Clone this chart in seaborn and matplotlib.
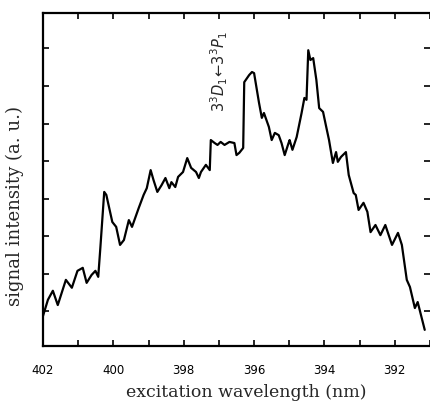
import matplotlib
matplotlib.use("Agg")
import matplotlib.pyplot as plt
import seaborn as sns
import numpy as np
import pandas as pd

wavelength = [402.00, 401.86, 401.72, 401.58, 401.35, 401.18, 401.02, 400.87, 400.76, 400.62,
              400.51, 400.43, 400.37, 400.26, 400.20, 400.03, 399.92, 399.81, 399.70, 399.56,
              399.47, 399.28, 399.14, 399.05, 398.94, 398.86, 398.75, 398.63, 398.52, 398.41,
              398.35, 398.24, 398.16, 398.02, 397.90, 397.79, 397.65, 397.57, 397.51, 397.37,
              397.26, 397.23, 397.12, 397.04, 396.95, 396.84, 396.70, 396.56, 396.50, 396.42,
              396.31, 396.28, 396.14, 396.06, 396.00, 395.86, 395.78, 395.72, 395.58, 395.50,
              395.41, 395.30, 395.22, 395.13, 395.02, 394.99, 394.91, 394.79, 394.65, 394.57,
              394.51, 394.46, 394.40, 394.32, 394.23, 394.15, 394.04, 393.95, 393.87, 393.76,
              393.67, 393.62, 393.53, 393.39, 393.31, 393.17, 393.11, 393.03, 392.89, 392.78,
              392.69, 392.55, 392.41, 392.27, 392.08, 391.91, 391.80, 391.66, 391.57, 391.43,
              391.35, 391.15]
intensity = [0.88, 1.31, 1.55, 1.17, 1.84, 1.63, 2.08, 2.16, 1.76, 1.97,
             2.08, 1.92, 2.69, 4.18, 4.10, 3.38, 3.25, 2.77, 2.90, 3.43,
             3.25, 3.75, 4.10, 4.28, 4.76, 4.50, 4.18, 4.36, 4.55, 4.28,
             4.44, 4.31, 4.58, 4.71, 5.08, 4.82, 4.71, 4.55, 4.71, 4.90,
             4.76, 5.56, 5.48, 5.43, 5.51, 5.43, 5.51, 5.48, 5.16, 5.22,
             5.35, 7.10, 7.29, 7.37, 7.34, 6.55, 6.15, 6.28, 5.91, 5.56,
             5.75, 5.69, 5.48, 5.16, 5.48, 5.56, 5.30, 5.64, 6.28, 6.68,
             6.63, 7.95, 7.69, 7.74, 7.16, 6.41, 6.31, 5.91, 5.56, 4.95,
             5.24, 4.98, 5.11, 5.24, 4.63, 4.15, 4.10, 3.70, 3.89, 3.65,
             3.11, 3.30, 3.03, 3.30, 2.77, 3.09, 2.77, 1.84, 1.65, 1.09,
             1.25, 0.51]
xtick_values = [402, 400, 398, 396, 394, 392]
xtick_labels = ["402", "400", "398", "396", "394", "392"]
annotation = r"$3^3D_1\!\leftarrow\!3^3P_1$"

sns.set_style("ticks")
plt.rcParams['font.family'] = ['DejaVu Sans']

fig = plt.figure(figsize=(4.30, 4.13), dpi=100)
ax = fig.add_axes([0.10, 0.1622, 0.90, 0.8063])

df = pd.DataFrame({"wl": wavelength, "sig": intensity})
sns.lineplot(data=df, x="wl", y="sig", color="black", linewidth=1.6, ax=ax, sort=False)

ax.set_xlim(402.0, 391.15)
ax.set_ylim(0.08, 8.94)

ax.set_xticks(xtick_values)
ax.set_xticklabels(xtick_labels, fontsize=8.5)
ax.set_xticks(np.arange(391, 403, 1), minor=True)
ax.set_yticks(np.arange(1, 9, 1))
ax.set_yticklabels([])

ax.tick_params(axis="both", which="both", direction="in", length=4, width=1.2,
               top=True, right=True, colors="black")
ax.tick_params(axis="x", which="major", pad=13)

for side in ["left", "bottom", "top"]:
    ax.spines[side].set_linewidth(1.6)
    ax.spines[side].set_color("black")
ax.spines["right"].set_visible(False)

ax.set_xlabel("excitation wavelength (nm)", fontsize=12.5, family="DejaVu Serif")
ax.xaxis.label.set_va("center")
ax.xaxis.set_label_coords(0.525, -0.141)
ax.set_ylabel("signal intensity (a. u.)", fontsize=13, family="DejaVu Serif")
ax.yaxis.label.set_va("center")
ax.yaxis.set_label_coords(-0.072, 0.42)

ax.text(397.0, 6.3, annotation, rotation=90, fontsize=10.5, ha="center", va="bottom",
        family="DejaVu Serif")

fig.savefig("out.png", dpi=100)
